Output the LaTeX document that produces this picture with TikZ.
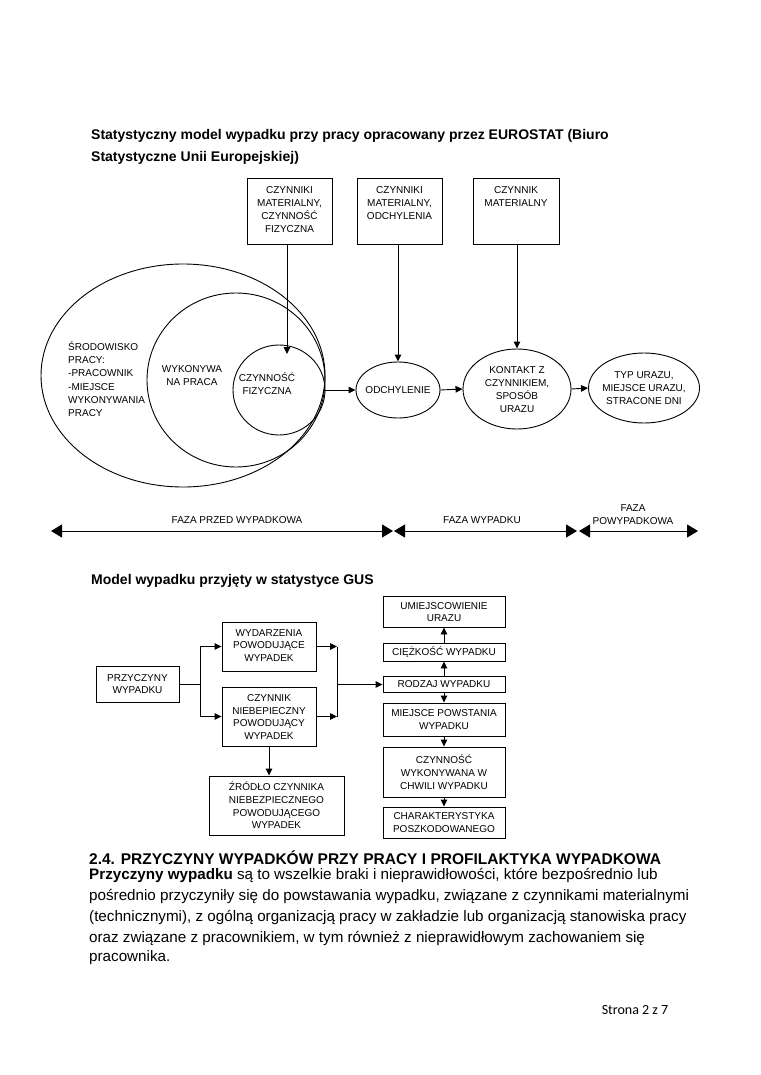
\documentclass[tikz,border=0pt]{standalone}
\usepackage{fontspec}
\setmainfont{Liberation Sans}
\newfontfamily\footfont{Carlito}
\usetikzlibrary{arrows.meta,shapes.geometric}
\begin{document}
\begin{tikzpicture}[x=1pt,y=-1pt,
  every node/.style={inner sep=0pt},
  lbl/.style={font=\fontsize{10}{13}\selectfont, align=center},
  glbl/.style={font=\fontsize{10}{12.6}\selectfont, align=center},
  bx/.style={draw, line width=0.9pt, rectangle},
  ell/.style={draw, line width=0.9pt, ellipse},
  arr/.style={-{Triangle[length=7pt,width=6.5pt]}, line width=0.9pt},
  ln/.style={line width=0.9pt},
  phase/.style={{Triangle[length=11pt,width=13pt]}-{Triangle[length=11pt,width=13pt]}, line width=0.9pt},
  ttl/.style={anchor=base west, font=\bfseries\fontsize{14}{22}\selectfont},
  body/.style={anchor=base west, font=\fontsize{15.2}{21}\selectfont},
]
\useasboundingbox[fill=white] (0,0) rectangle (760,1075);

% ---------- title 1
\node[ttl] (t1a) at (91,140) {Statystyczny model wypadku przy pracy opracowany przez EUROSTAT (Biuro};
\node[ttl] (t1b) at (91,162) {Statystyczne Unii Europejskiej)};

% ---------- top boxes
\node[bx, minimum width=85, minimum height=66] (b1) at (289.5,211) {};
\node[bx, minimum width=85, minimum height=66] (b2) at (399.5,211) {};
\node[bx, minimum width=86, minimum height=66] (b3) at (516,211) {};
\node[lbl] (b1t) at (289.5,209.5) {CZYNNIKI\\MATERIALNY,\\CZYNNOŚĆ\\FIZYCZNA};
\node[lbl] (b2t) at (399.5,203.5) {CZYNNIKI\\MATERIALNY,\\ODCHYLENIA};
\node[lbl] (b3t) at (516,196.5) {CZYNNIK\\MATERIALNY};

% ---------- ellipses
\node[ell, minimum width=284, minimum height=223] (outer) at (183,375.5) {};
\node[ell, minimum width=178, minimum height=174] (middle) at (236,380) {};
\node[ell, minimum width=92, minimum height=90] (small) at (279,390) {};
\node[lbl, align=left, font=\fontsize{10}{13.2}\selectfont, anchor=west] (envt) at (68,379) {ŚRODOWISKO\\PRACY:\\-PRACOWNIK\\-MIEJSCE\\WYKONYWANIA\\PRACY};
\node[lbl] (midt) at (192,375.5) {WYKONYWA\\NA PRACA};
\node[lbl] (smallt) at (267,384) {CZYNNOŚĆ\\FIZYCZNA};

\node[ell, minimum width=84, minimum height=56] (odch) at (398,390) {};
\node[lbl] (odcht) at (398,390) {ODCHYLENIE};
\node[ell, minimum width=108, minimum height=80] (kont) at (517,389) {};
\node[lbl] (kontt) at (517,390) {KONTAKT Z\\CZYNNIKIEM,\\SPOSÓB\\URAZU};
\node[ell, minimum width=111, minimum height=70] (typ) at (644,388) {};
\node[lbl] (typt) at (644,388) {TYP URAZU,\\MIEJSCE URAZU,\\STRACONE DNI};

\coordinate (e1) at (287,354);
\draw[arr] (e1 |- b1.south) -- (e1);
\draw[arr] (odch.north |- b2.south) -- (odch.north);
\draw[arr] (kont.north |- b3.south) -- (kont.north);
\draw[arr] (small.east) -- (odch.west);
\draw[arr] (odch.east) -- (kont.west);
\draw[arr] (kont.east) -- (typ.west);

% ---------- phases
\coordinate (p0) at (51,531);
\coordinate (p1) at (393,531);
\coordinate (p1b) at (394,531);
\coordinate (p2) at (577,531);
\coordinate (p2b) at (579,531);
\coordinate (p3) at (698,531);
\draw[phase] (p0) -- (p1);
\draw[phase] (p1b) -- (p2);
\draw[phase] (p2b) -- (p3);
\node[lbl] (ph1) at (237,520) {FAZA PRZED WYPADKOWA};
\node[lbl] (ph2) at (482,520) {FAZA WYPADKU};
\node[lbl] (ph3) at (633,514.5) {FAZA\\POWYPADKOWA};

% ---------- title 2
\node[ttl] (t2) at (91,584) {Model wypadku przyjęty w statystyce GUS};

% ---------- GUS diagram
\node[bx, minimum width=83, minimum height=36] (prz) at (137.5,684) {};
\node[glbl] (przt) at (137.5,684) {PRZYCZYNY\\WYPADKU};
\node[bx, minimum width=94, minimum height=49] (wyd) at (269,646.5) {};
\node[glbl] (wydt) at (269,645.5) {WYDARZENIA\\POWODUJĄCE\\WYPADEK};
\node[bx, minimum width=94, minimum height=59] (czy) at (269,716.5) {};
\node[glbl] (czyt) at (269,717) {CZYNNIK\\NIEBEPIECZNY\\POWODUJĄCY\\WYPADEK};
\node[bx, minimum width=135, minimum height=59] (zro) at (276.5,805.5) {};
\node[glbl] (zrot) at (276.5,805.5) {ŹRÓDŁO CZYNNIKA\\NIEBEZPIECZNEGO\\POWODUJĄCEGO\\WYPADEK};

\node[bx, minimum width=122, minimum height=31] (umi) at (444,611.5) {};
\node[glbl] (umit) at (444,612) {UMIEJSCOWIENIE\\URAZU};
\node[bx, minimum width=122, minimum height=18] (cie) at (444,652) {};
\node[glbl] (ciet) at (444,652) {CIĘŻKOŚĆ WYPADKU};
\node[bx, minimum width=122, minimum height=16] (rodz) at (444,684.5) {};
\node[glbl] (rodzt) at (444,684.5) {RODZAJ WYPADKU};
\node[bx, minimum width=122, minimum height=33] (mie) at (444,719.5) {};
\node[glbl] (miet) at (444,719.5) {MIEJSCE POWSTANIA\\WYPADKU};
\node[bx, minimum width=122, minimum height=50] (czw) at (444,772) {};
\node[glbl] (czwt) at (444,772) {CZYNNOŚĆ\\WYKONYWANA W\\CHWILI WYPADKU};
\node[bx, minimum width=122, minimum height=31] (cha) at (444,822.5) {};
\node[glbl] (chat) at (444,822.5) {CHARAKTERYSTYKA\\POSZKODOWANEGO};

\coordinate (j1) at (200,684);
\coordinate (j2) at (337,684.5);
\draw[ln] (prz.east) -- (j1);
\draw[arr] (j1) |- (wyd.west);
\draw[arr] (j1) |- (czy.west);
\draw[arr] (wyd.east) -- (wyd.east -| j2);
\draw[arr] (czy.east) -- (czy.east -| j2);
\draw[ln] (wyd.east -| j2) -- (czy.east -| j2);
\draw[arr] (j2) -- (j2 -| rodz.west);
\draw[arr] (czy.south) -- (czy.south |- zro.north);
\draw[arr] (rodz.north) -- (cie.south);
\draw[arr] (cie.north) -- (umi.south);
\draw[arr] (rodz.south) -- (mie.north);
\draw[arr] (mie.south) -- (czw.north);
\draw[arr] (czw.south) -- (cha.north);

% ---------- text section
\node[anchor=base west, font=\bfseries\fontsize{15.5}{21}\selectfont] (h1) at (89,864) {2.4. PRZYCZYNY WYPADKÓW PRZY PRACY I PROFILAKTYKA WYPADKOWA};
\node[body] (l1) at (89,879) {\textbf{Przyczyny wypadku} są to wszelkie braki i nieprawidłowości, które bezpośrednio lub};
\node[body] (l2) at (89,900) {pośrednio przyczyniły się do powstawania wypadku, związane z czynnikami materialnymi};
\node[body] (l3) at (89,921) {(technicznymi), z ogólną organizacją pracy w zakładzie lub organizacją stanowiska pracy};
\node[body] (l4) at (89,942) {oraz związane z pracownikiem, w tym również z nieprawidłowym zachowaniem się};
\node[body] (l5) at (89,961) {pracownika.};

\node[anchor=base, font=\footfont\fontsize{14}{16}\selectfont] (foot) at (635,1014) {Strona 2 z 7};
\end{tikzpicture}
\end{document}
